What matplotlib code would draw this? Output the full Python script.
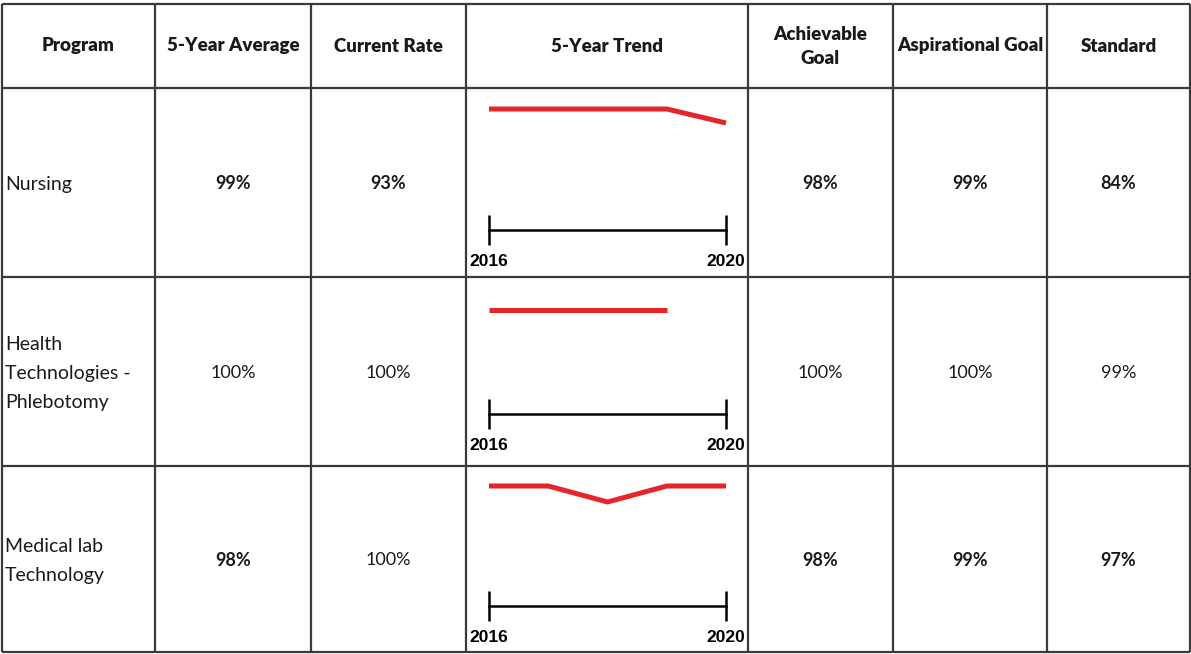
import matplotlib
matplotlib.use("Agg")
import matplotlib.pyplot as plt

# ---------------- data ----------------
headers = ["Program", "5-Year Average", "Current Rate", "5-Year Trend",
           "Achievable\nGoal", "Aspirational Goal", "Standard"]
programs = ["Nursing", "Health\nTechnologies -\nPhlebotomy", "Medical lab\nTechnology"]
five_year_avg = ["99%", "100%", "98%"]
current_rate = ["93%", "100%", "100%"]
achievable_goal = ["98%", "100%", "98%"]
aspirational_goal = ["99%", "100%", "99%"]
standard = ["84%", "99%", "97%"]

trend_years = [
    [2016, 2017, 2018, 2019, 2020],
    [2016, 2017, 2018, 2019],
    [2016, 2017, 2018, 2019, 2020],
]
trend_values = [
    [100, 100, 100, 100, 93],
    [100, 100, 100, 100],
    [100, 100, 92, 100, 100],
]
axis_years = [2016, 2020]

# ---------------- layout (pixels) ----------------
W, H = 1191, 654
col_edges = [2, 155, 311, 466, 748, 893, 1047, 1190]
row_edges = [4, 88, 277, 466, 652]
spark_top = [109, 310, 486]       # pixel y of value 100
spark_axis = [230, 414, 606]      # pixel y of timeline
spark_x = (489, 726)
px_per_point = 2.0

fig = plt.figure(figsize=(W / 100, H / 100), dpi=100)
ax = fig.add_axes([0, 0, 1, 1])
ax.set_xlim(0, W)
ax.set_ylim(H, 0)
ax.axis("off")

line_col = "#3a3a3a"
for x in col_edges:
    ax.plot([x, x], [row_edges[0], row_edges[-1]], color=line_col, lw=1.6,
            solid_capstyle="butt")
for y in row_edges:
    ax.plot([col_edges[0], col_edges[-1]], [y, y], color=line_col, lw=1.6,
            solid_capstyle="butt")

FONT = ["Lato", "DejaVu Sans"]
txt_col = "#1a1a1a"

# headers
for i, h in enumerate(headers):
    cx = (col_edges[i] + col_edges[i + 1]) / 2
    cy = (row_edges[0] + row_edges[1]) / 2
    ax.text(cx, cy, h, ha="center", va="center", fontsize=13.5, fontweight="heavy",
            family=FONT, color=txt_col, linespacing=1.5)

value_cols = [five_year_avg, current_rate, None, achievable_goal,
              aspirational_goal, standard]
for r in range(3):
    cy = (row_edges[r + 1] + row_edges[r + 2]) / 2
    ax.text(col_edges[0] + 3, cy + 2, programs[r], ha="left", va="center",
            fontsize=14, family=FONT, color=txt_col, linespacing=1.85)
    for j, vals in enumerate(value_cols):
        if vals is None:
            continue
        c = j + 1
        cx = (col_edges[c] + col_edges[c + 1]) / 2
        v = vals[r]
        weight = "normal" if (v == "100%" or r == 1) else "bold"
        ax.text(cx, cy + 1, v, ha="center", va="center", fontsize=13,
                fontweight=weight, family=FONT, color=txt_col)

# sparklines
for r in range(3):
    top = spark_top[r]
    bot = spark_axis[r]
    hpx = bot - top
    sax = fig.add_axes([spark_x[0] / W, 1 - bot / H,
                        (spark_x[1] - spark_x[0]) / W, hpx / H])
    sax.set_xlim(axis_years[0], axis_years[1])
    sax.set_ylim(100 - hpx / px_per_point, 100)
    sax.patch.set_alpha(0)
    sax.plot(trend_years[r], trend_values[r], color="#e8242b", lw=3.6,
             solid_joinstyle="miter", solid_capstyle="butt", clip_on=False)
    for s in ["top", "left", "right"]:
        sax.spines[s].set_visible(False)
    sax.spines["bottom"].set_linewidth(1.8)
    sax.spines["bottom"].set_color("black")
    sax.set_yticks([])
    sax.set_xticks(axis_years)
    sax.set_xticklabels([str(y) for y in axis_years])
    sax.tick_params(axis="x", direction="inout", length=22, width=1.8,
                    pad=6, labelsize=12.5, colors="black")
    for lab in sax.get_xticklabels():
        lab.set_fontweight("bold")
        lab.set_family(["Liberation Sans", "DejaVu Sans"])

fig.savefig("out.png", dpi=100)
